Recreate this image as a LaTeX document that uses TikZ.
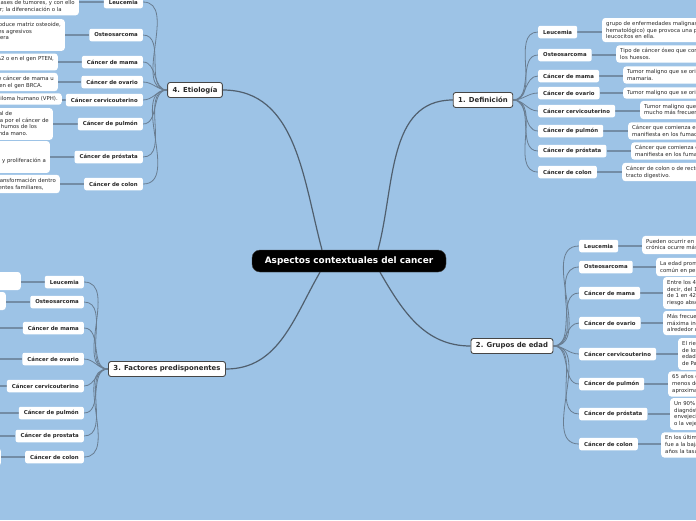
\documentclass[tikz,border=0pt]{standalone}
\usepackage{fontspec}
\setmainfont{DejaVu Sans}
\usetikzlibrary{backgrounds}
\definecolor{cSky}{RGB}{157,195,230}
\definecolor{cInk}{RGB}{40,40,40}
\definecolor{cRim}{RGB}{70,70,70}
\definecolor{cTrunk}{RGB}{80,95,110}
\definecolor{cFan}{RGB}{105,125,145}
\definecolor{cLink}{RGB}{115,140,165}

\begin{document}
\begin{tikzpicture}[x=1pt, y=-1pt,
    root/.style={fill=black, draw=black!75, rounded corners=8pt, text=white, font=\bfseries\fontsize{8.9}{10}\selectfont, minimum width=194pt, minimum height=22pt, inner sep=0pt},
    topic/.style={fill=white, draw=cRim, line width=0.9pt, rounded corners=2.5pt, text=cInk, font=\bfseries\fontsize{6.9}{8}\selectfont, inner xsep=5pt, inner ysep=0pt, minimum height=15pt},
    sub/.style={fill=white, rounded corners=2pt, text=cInk, font=\bfseries\fontsize{5.4}{6}\selectfont, inner xsep=5pt, inner ysep=0pt, minimum height=12.5pt},
    note/.style={fill=white, rounded corners=3pt, text=cInk, font=\fontsize{5.4}{6.8}\selectfont, align=left, inner xsep=4pt, inner ysep=3pt},
    mn/.style={draw=cTrunk, line width=1.2pt},
    br/.style={draw=cFan, line width=0.8pt},
    lk/.style={draw=cLink, line width=1.6pt}]
    \useasboundingbox (0,0) rectangle (696,520);

    % centre and main topics
    \node[root] (root) at (349,261) {Aspectos contextuales del cancer};
    \node[topic] (def) at (483,100) {1. Definición};
    \node[topic] (edad) at (512,346) {2. Grupos de edad};
    \node[topic] (fac) at (167,369) {3. Factores predisponentes};
    \node[topic] (etio) at (195,90) {4. Etiología};

    % 1. Definición
    \node[sub, anchor=west] (d1) at (538,32) {Leucemia};
    \node[sub, anchor=west] (d2) at (538,55) {Osteosarcoma};
    \node[sub, anchor=west] (d3) at (538,76) {Cáncer de mama};
    \node[sub, anchor=west] (d4) at (538,93) {Cáncer de ovario};
    \node[sub, anchor=west] (d5) at (538,111) {Cáncer cervicouterino};
    \node[sub, anchor=west] (d6) at (538,131) {Cáncer de pulmón};
    \node[sub, anchor=west] (d7) at (538,151) {Cáncer de próstata};
    \node[sub, anchor=west] (d8) at (538,172) {Cáncer de colon};
    \node[note, anchor=west] (dn1) at (602,30) {grupo de enfermedades malignas de la médula ósea (tejido\\hematológico) que provoca una proliferación descontrolada de\\leucocitos en ella.};
    \node[note, anchor=west] (dn2) at (616,54) {Tipo de cáncer óseo que comienza en las células que forman\\los huesos.};
    \node[note, anchor=west] (dn3) at (623,75) {Tumor maligno que se origina en las células de la glándula\\mamaria.};
    \node[note, anchor=west] (dn4) at (623,93) {Tumor maligno que se origina en los ovarios.};
    \node[note, anchor=west] (dn5) at (640,110) {Tumor maligno que se desarrolla en el cuello uterino,\\mucho más frecuente en mujeres.};
    \node[note, anchor=west] (dn6) at (628,131) {Cáncer que comienza en los pulmones y que se\\manifiesta en los fumadores.};
    \node[note, anchor=west] (dn7) at (631,151) {Cáncer que comienza en la próstata y que se\\manifiesta en los fumadores.};
    \node[note, anchor=west] (dn8) at (622,172) {Cáncer de colon o de recto que comienza en el\\tracto digestivo.};

    % 2. Grupos de edad
    \node[sub, anchor=west] (e1) at (579,246) {Leucemia};
    \node[sub, anchor=west] (e2) at (579,267) {Osteosarcoma};
    \node[sub, anchor=west] (e3) at (579,293) {Cáncer de mama};
    \node[sub, anchor=west] (e4) at (579,323) {Cáncer de ovario};
    \node[sub, anchor=west] (e5) at (579,354) {Cáncer cervicouterino};
    \node[sub, anchor=west] (e6) at (579,384) {Cáncer de pulmón};
    \node[sub, anchor=west] (e7) at (579,414) {Cáncer de próstata};
    \node[sub, anchor=west] (e8) at (579,444) {Cáncer de colon};
    \node[note, anchor=west] (en1) at (642,245) {Pueden ocurrir en cualquier edad, aunque la leucemia\\crónica ocurre más en adultos mayores.};
    \node[note, anchor=west] (en2) at (656,267) {La edad promedio de diagnóstico es de 20 años; es más\\común en personas jóvenes.};
    \node[note, anchor=west] (en3) at (663,293) {Entre los 40 y 50 años, es\\decir, del 1.5\%, o cerca\\de 1 en 42 mujeres tiene un\\riesgo absoluto.};
    \node[note, anchor=west] (en4) at (663,323) {Más frecuente en mujeres mayores, con\\máxima incidencia\\alrededor de los 60 años.};
    \node[note, anchor=west] (en5) at (678,354) {El riesgo aumenta a partir\\de los 30 años de\\edad y sin prueba\\de Papanicolaou.};
    \node[note, anchor=west] (en6) at (668,384) {65 años o más; muy pocos a\\menos de 45 años,\\aproximadamente.};
    \node[note, anchor=west] (en7) at (670,414) {Un 90\% de los casos recibe el\\diagnóstico después de los 65;\\envejecimiento\\o la vejez.};
    \node[note, anchor=west] (en8) at (661,445) {En los últimos años la tendencia\\fue a la baja; en los últimos\\años la tasa disminuyó.};

    % 3. Factores predisponentes
    \node[sub, anchor=east] (f1) at (84,282) {Leucemia};
    \node[sub, anchor=east] (f2) at (84,302) {Osteosarcoma};
    \node[sub, anchor=east] (f3) at (84,328) {Cáncer de mama};
    \node[sub, anchor=east] (f4) at (84,359) {Cáncer de ovario};
    \node[sub, anchor=east] (f5) at (84,386) {Cáncer cervicouterino};
    \node[sub, anchor=east] (f6) at (84,413) {Cáncer de pulmón};
    \node[sub, anchor=east] (f7) at (84,436) {Cáncer de prostata};
    \node[sub, anchor=east] (f8) at (84,457) {Cáncer de colon};
    \node[note, anchor=east, minimum width=140pt, minimum height=18pt] (fn1) at (21,281) {};
    \node[note, anchor=east, minimum width=140pt, minimum height=18pt] (fn2) at (6,301) {};
    \node[note, anchor=east, minimum width=140pt, minimum height=18pt] (fn3) at (-4,328) {};
    \node[note, anchor=east, minimum width=140pt, minimum height=18pt] (fn4) at (-4,359) {};
    \node[note, anchor=east, minimum width=140pt, minimum height=18pt] (fn5) at (-4,386) {};
    \node[note, anchor=east, minimum width=140pt, minimum height=18pt] (fn6) at (-4,413) {};
    \node[note, anchor=east, minimum width=140pt, minimum height=18pt] (fn7) at (-4,436) {};
    \node[note, anchor=east, minimum width=140pt, minimum height=18pt] (fn8) at (1,457) {};

    % 4. Etiología
    \node[sub, anchor=east] (t1) at (143,2) {Leucemia};
    \node[sub, anchor=east] (t2) at (143,35) {Osteosarcoma};
    \node[sub, anchor=east] (t3) at (143,62) {Cáncer de mama};
    \node[sub, anchor=east] (t4) at (143,82) {Cáncer de ovario};
    \node[sub, anchor=east] (t5) at (143,100) {Cáncer cervicouterino};
    \node[sub, anchor=east] (t6) at (143,124) {Cáncer de pulmón};
    \node[sub, anchor=east] (t7) at (143,157) {Cáncer de próstata};
    \node[sub, anchor=east] (t8) at (143,184) {Cáncer de colon};
    \node[note, anchor=east] (tn1) at (79,3) {La leucemia surge por mutaciones genéticas en\\el ADN de muchas clases de tumores, y con ello\\afecta al ciclo celular; la diferenciación o la};
    \node[note, anchor=east] (tn2) at (65,35) {Es un tumor maligno de hueso que produce matriz osteoide,\\y que en la mayoría suelen ser tumores agresivos\\con tendencia a la metástasis de manera\\temprana.};
    \node[note, anchor=east] (tn3) at (58,62) {Mutaciones hereditarias en los genes BRCA1, BRCA2 o en el gen PTEN,\\entre otros.};
    \node[note, anchor=east] (tn4) at (58,82) {Antecedentes familiares de cáncer de mama u\\ovario, o bien mutaciones en el gen BRCA.};
    \node[note, anchor=east] (tn5) at (62,99) {Infección persistente por el virus del papiloma humano (VPH).};
    \node[note, anchor=east] (tn6) at (53,124) {El tabaquismo es la causa principal de\\la mayoría de las muertes causada por el cáncer de\\pulmón, junto con la exposición a humos de los\\cigarrillos como fumador de segunda mano.};
    \node[note, anchor=east] (tn7) at (50,157) {Se origina cuando las células en la\\glándula prostática adquieren\\mutaciones que provocan un crecimiento y proliferación a\\otros órganos.};
    \node[note, anchor=east] (tn8) at (60,184) {Los pólipos pueden sufrir una transformación dentro\\del colon; también por antecedentes familiares,};

    \begin{scope}[on background layer]
      \fill[cSky] (0,0) rectangle (696,520);
      % trunks
      \draw[mn] (def.west) to[out=180, in=75] ([xshift=29pt]root.north);
      \draw[mn] (etio.east) to[out=0, in=105] ([xshift=-27pt]root.north);
      \draw[mn] (edad.west) to[out=180, in=-60] ([xshift=31pt]root.south);
      \draw[mn] (fac.east) to[out=0, in=-120] ([xshift=-29pt]root.south);
      % branches
      \foreach \k in {1,...,8} {
        \draw[br] (def.east) to[out=0, in=180] (d\k.west);
        \draw[br] (edad.east) to[out=0, in=180] (e\k.west);
        \draw[br] (fac.west) to[out=180, in=0] (f\k.east);
        \draw[br] (etio.west) to[out=180, in=0] (t\k.east);
        \draw[lk] (d\k.east) -- (d\k.east -| dn\k.west);
        \draw[lk] (e\k.east) -- (e\k.east -| en\k.west);
        \draw[lk] (f\k.west) -- (f\k.west -| fn\k.east);
        \draw[lk] (t\k.west) -- (t\k.west -| tn\k.east);
      }
    \end{scope}
\end{tikzpicture}
\end{document}
